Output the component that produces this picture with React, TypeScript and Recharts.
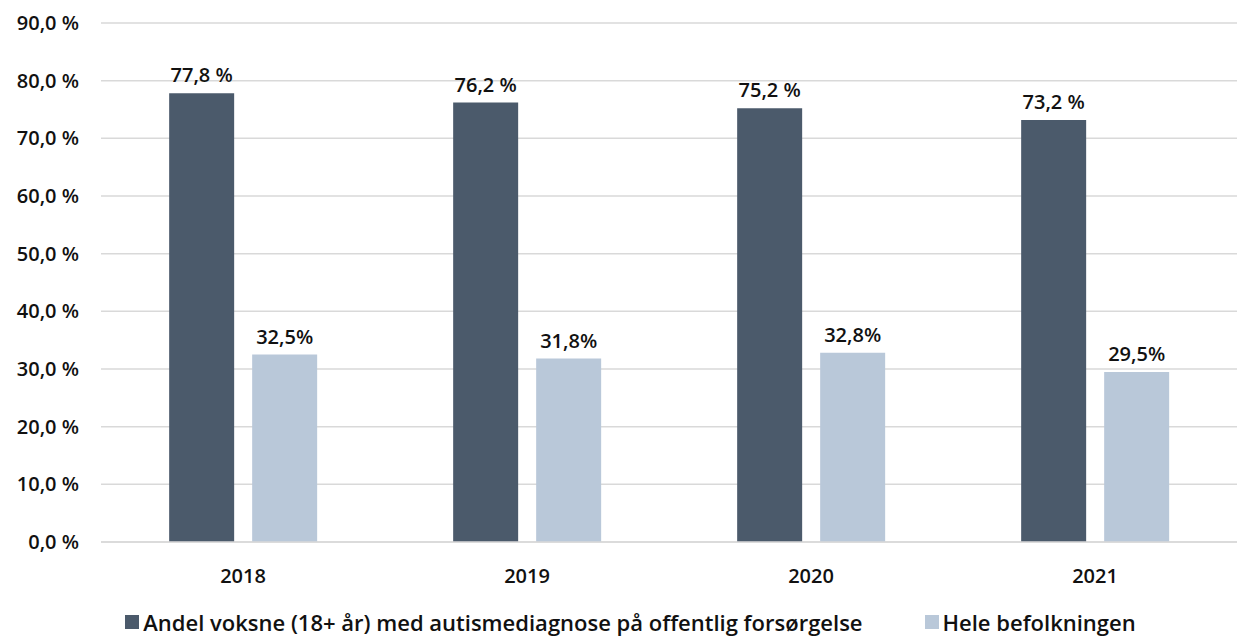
import { BarChart, Bar, XAxis, YAxis, CartesianGrid, Legend, LabelList } from 'recharts';

const years = ['2018', '2019', '2020', '2021'];
const autismShare = [77.8, 76.2, 75.2, 73.2];
const wholePopulation = [32.5, 31.8, 32.8, 29.5];
const yTicks = [0, 10, 20, 30, 40, 50, 60, 70, 80, 90];

const series = [
  { key: 'autism', name: 'Andel voksne (18+ år) med autismediagnose på offentlig forsørgelse', color: '#4b5a6b', label: (v: number) => `${v.toFixed(1).replace('.', ',')} %` },
  { key: 'all', name: 'Hele befolkningen', color: '#b9c8d9', label: (v: number) => `${v.toFixed(1).replace('.', ',')}%` },
];

const data = years.map((year, i) => ({ year, autism: autismShare[i], all: wholePopulation[i] }));

const font = '"Open Sans", sans-serif';
const textStyle = { fill: '#111', fontSize: 20, fontFamily: font, fontWeight: 600 };

function LegendContent() {
  return (
    <div style={{ display: 'flex', justifyContent: 'center', gap: 62, paddingTop: 16, paddingLeft: 24, fontFamily: font, fontSize: 22, fontWeight: 600, color: '#111', whiteSpace: 'nowrap', lineHeight: '28px' }}>
      {series.map((s) => (
        <div key={s.key} style={{ display: 'flex', alignItems: 'center' }}>
          <span style={{ display: 'inline-block', width: 14, height: 14, background: s.color, marginRight: 4 }} />
          <span>{s.name}</span>
        </div>
      ))}
    </div>
  );
}

export default function App() {
  return (
    <div style={{ position: 'absolute', left: 0, top: 0, width: 1237, height: 637, background: '#fff' }}>
      <BarChart width={1237} height={637} data={data} margin={{ top: 23, right: 0, left: 0, bottom: 0 }} barCategoryGap="24%" barGap={18}>
        <CartesianGrid vertical={false} stroke="#d9d9d9" strokeWidth={1.5} />
        <XAxis
          dataKey="year"
          axisLine={{ stroke: '#d9d9d9', strokeWidth: 1.5 }}
          tickLine={false}
          tickSize={0}
          tickMargin={27}
          height={50}
          tick={textStyle}
        />
        <YAxis
          domain={[0, 90]}
          ticks={yTicks}
          axisLine={false}
          tickLine={false}
          tickSize={0}
          tickMargin={22}
          width={101}
          tickFormatter={(v: number) => `${v.toFixed(1).replace('.', ',')} %`}
          tick={textStyle}
        />
        <Legend verticalAlign="bottom" height={45} content={<LegendContent />} />
        {series.map((s) => (
          <Bar key={s.key} dataKey={s.key} name={s.name} fill={s.color} isAnimationActive={false}>
            <LabelList
              dataKey={s.key}
              position="top"
              offset={11}
              formatter={(v: any) => s.label(Number(v))}
              style={textStyle}
            />
          </Bar>
        ))}
      </BarChart>
    </div>
  );
}
